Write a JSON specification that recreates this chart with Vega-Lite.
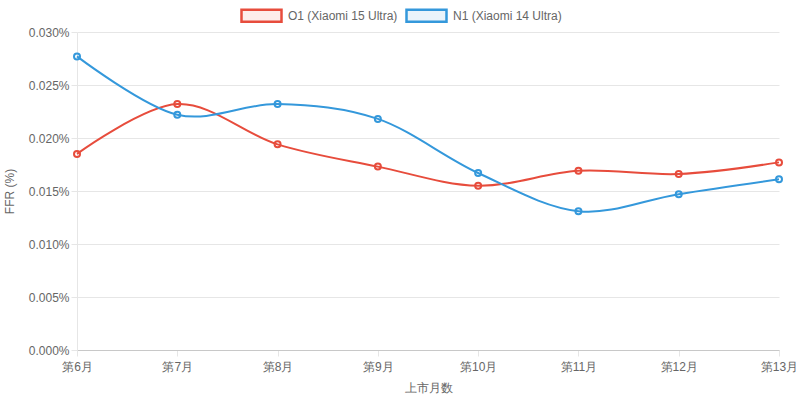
{
  "$schema": "https://vega.github.io/schema/vega-lite/v6.json",
  "width": 702,
  "height": 318,
  "autosize": "none",
  "padding": {"left": 77, "top": 32, "right": 21, "bottom": 51},
  "background": "white",
  "data": {
    "values": [
      {"month": "第6月", "series": "O1 (Xiaomi 15 Ultra)", "ffr": 0.0185},
      {"month": "第7月", "series": "O1 (Xiaomi 15 Ultra)", "ffr": 0.0232},
      {"month": "第8月", "series": "O1 (Xiaomi 15 Ultra)", "ffr": 0.0194},
      {"month": "第9月", "series": "O1 (Xiaomi 15 Ultra)", "ffr": 0.0173},
      {"month": "第10月", "series": "O1 (Xiaomi 15 Ultra)", "ffr": 0.0155},
      {"month": "第11月", "series": "O1 (Xiaomi 15 Ultra)", "ffr": 0.0169},
      {"month": "第12月", "series": "O1 (Xiaomi 15 Ultra)", "ffr": 0.0166},
      {"month": "第13月", "series": "O1 (Xiaomi 15 Ultra)", "ffr": 0.0177},
      {"month": "第6月", "series": "N1 (Xiaomi 14 Ultra)", "ffr": 0.0277},
      {"month": "第7月", "series": "N1 (Xiaomi 14 Ultra)", "ffr": 0.0222},
      {"month": "第8月", "series": "N1 (Xiaomi 14 Ultra)", "ffr": 0.0232},
      {"month": "第9月", "series": "N1 (Xiaomi 14 Ultra)", "ffr": 0.0218},
      {"month": "第10月", "series": "N1 (Xiaomi 14 Ultra)", "ffr": 0.0167},
      {"month": "第11月", "series": "N1 (Xiaomi 14 Ultra)", "ffr": 0.0131},
      {"month": "第12月", "series": "N1 (Xiaomi 14 Ultra)", "ffr": 0.0147},
      {"month": "第13月", "series": "N1 (Xiaomi 14 Ultra)", "ffr": 0.0161}
    ]
  },
  "encoding": {
    "x": {
      "field": "month", "type": "ordinal",
      "sort": ["第6月", "第7月", "第8月", "第9月", "第10月", "第11月", "第12月", "第13月"],
      "scale": {"type": "point", "padding": 0},
      "title": "上市月数",
      "axis": {"labelAngle": 0, "labelPadding": 5, "titlePadding": 10, "domainColor": "#c8c8c8"}
    },
    "y": {
      "field": "ffr", "type": "quantitative",
      "scale": {"domain": [0, 0.03], "nice": false},
      "title": "FFR (%)",
      "axis": {
        "values": [0, 0.005, 0.01, 0.015, 0.02, 0.025, 0.03],
        "labelExpr": "format(datum.value, '.3f') + '%'",
        "titlePadding": 12
      }
    },
    "color": {
      "field": "series", "type": "nominal",
      "scale": {"domain": ["O1 (Xiaomi 15 Ultra)", "N1 (Xiaomi 14 Ultra)"], "range": ["#e74c3c", "#3498db"]},
      "legend": {
        "title": null,
        "orient": "none",
        "direction": "horizontal",
        "legendX": 163,
        "legendY": -38,
        "symbolType": "M-1,-0.3H1V0.3H-1Z",
        "symbolSize": 1600,
        "symbolStrokeWidth": 2.5,
        "labelOffset": 5,
        "columnPadding": 3,
        "encode": {
          "symbols": {"update": {"fill": {"scale": "color", "field": "value"}, "fillOpacity": {"value": 0.1}}}
        }
      }
    }
  },
  "layer": [
    {"mark": {"type": "line", "interpolate": "cardinal", "tension": 0, "strokeWidth": 2}},
    {"mark": {"type": "point", "shape": "circle", "size": 36, "filled": false, "strokeWidth": 2, "opacity": 1}}
  ],
  "config": {
    "font": "Liberation Sans",
    "view": {"stroke": null},
    "axis": {
      "labelColor": "#666666", "labelFontSize": 12, "titleColor": "#666666",
      "titleFontSize": 12, "titleFontWeight": "normal",
      "gridColor": "#e6e6e6", "domainColor": "#e6e6e6", "tickColor": "#e6e6e6", "tickSize": 6
    },
    "legend": {"labelColor": "#666666", "labelFontSize": 12, "padding": 0}
  }
}
